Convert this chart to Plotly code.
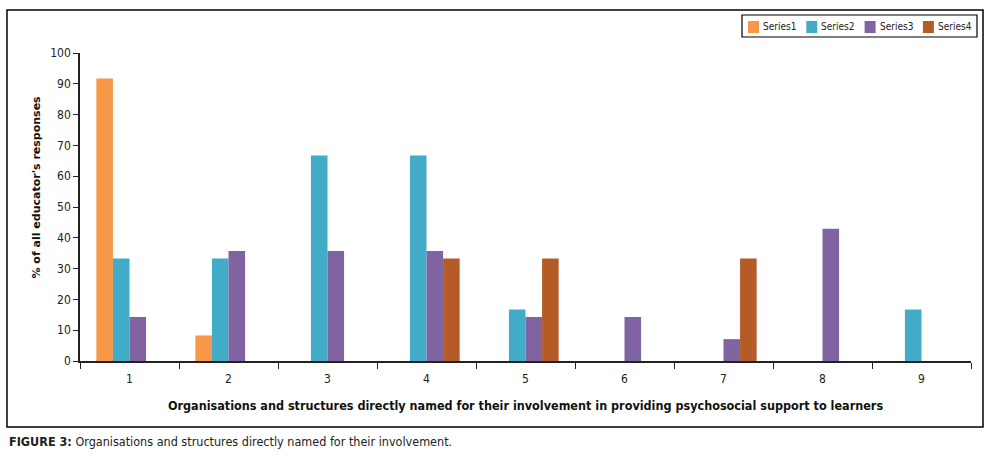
import plotly.graph_objects as go

categories = ["1", "2", "3", "4", "5", "6", "7", "8", "9"]
series_names = ["Series1", "Series2", "Series3", "Series4"]
series1 = [91.7, 8.3, 0, 0, 0, 0, 0, 0, 0]
series2 = [33.3, 33.3, 66.7, 66.7, 16.7, 0, 0, 0, 16.7]
series3 = [14.3, 35.7, 35.7, 35.7, 14.3, 14.3, 7.1, 42.9, 0]
series4 = [0, 0, 0, 33.3, 33.3, 0, 33.3, 0, 0]
colors = ["#F79848", "#42ABC7", "#8064A2", "#B55B28"]

W, H = 991, 459
L, R, T, B = 80, 20, 53, 98
pw, ph = W - L - R, H - T - B


def px(x):
    return (x - L) / pw


def py(y):
    return (H - B - y) / ph


narrow = "Liberation Sans Narrow, DejaVu Sans Condensed, sans-serif"

fig = go.Figure()
for name, vals, col in zip(series_names, [series1, series2, series3, series4], colors):
    fig.add_trace(go.Bar(x=categories, y=vals, name=name, showlegend=False,
                         marker=dict(color=col, line=dict(width=0))))

fig.update_layout(
    width=W, height=H,
    margin=dict(l=L, r=R, t=T, b=B),
    paper_bgcolor="white", plot_bgcolor="white",
    barmode="group", bargap=0.33, bargroupgap=0,
    font=dict(family=narrow, size=12, color="#222222"),
    xaxis=dict(
        type="category", tickson="boundaries", ticks="outside", ticklen=6,
        tickcolor="#222222", showline=True, linecolor="#222222", linewidth=2,
        showgrid=False, tickfont=dict(family=narrow, size=12), ticklabelstandoff=6,
        title=dict(text="<b>Organisations and structures directly named for their involvement in providing psychosocial support to learners</b>",
                   font=dict(family=narrow, size=12.5, color="#111111"), standoff=16),
    ),
    yaxis=dict(
        range=[0, 100], dtick=10, ticks="outside", ticklen=5, tickcolor="#222222",
        showline=True, linecolor="#222222", linewidth=1.5, showgrid=False, zeroline=False,
        tickfont=dict(family=narrow, size=12),
    ),
)

# legend box drawn in the reference's compact style
fig.add_shape(type="rect", xref="paper", yref="paper",
              x0=px(742), x1=px(977), y0=py(37), y1=py(15),
              line=dict(color="black", width=1.2), fillcolor="white")
for i, (name, col) in enumerate(zip(series_names, colors)):
    x0 = 748 + i * 58.3
    fig.add_shape(type="rect", xref="paper", yref="paper",
                  x0=px(x0), x1=px(x0 + 11), y0=py(33), y1=py(21),
                  line=dict(width=0), fillcolor=col)
    fig.add_annotation(text=name, xref="paper", yref="paper",
                       x=px(x0 + 13), y=py(27), xanchor="left", yanchor="middle",
                       showarrow=False, font=dict(family=narrow, size=10, color="#222222"))

fig.add_annotation(
    text="<b>% of all educator's responses</b>", textangle=-90,
    xref="paper", yref="paper", x=px(27), y=py(187), showarrow=False,
    font=dict(family="DejaVu Sans, sans-serif", size=11, color="#111111"),
)

fig.add_annotation(
    text="<b>FIGURE 3:</b> Organisations and structures directly named for their involvement.",
    xref="paper", yref="paper", x=px(7), y=py(441), xanchor="left", yanchor="middle",
    showarrow=False, font=dict(family=narrow, size=12.5, color="#222222"),
)

fig.add_shape(
    type="rect", xref="paper", yref="paper",
    x0=px(7), x1=px(983), y0=py(427), y1=py(10),
    line=dict(color="black", width=1.5), fillcolor="rgba(0,0,0,0)",
)

fig.write_html("out.html", config={"displayModeBar": False},
               post_script="document.body.style.margin='0';")
